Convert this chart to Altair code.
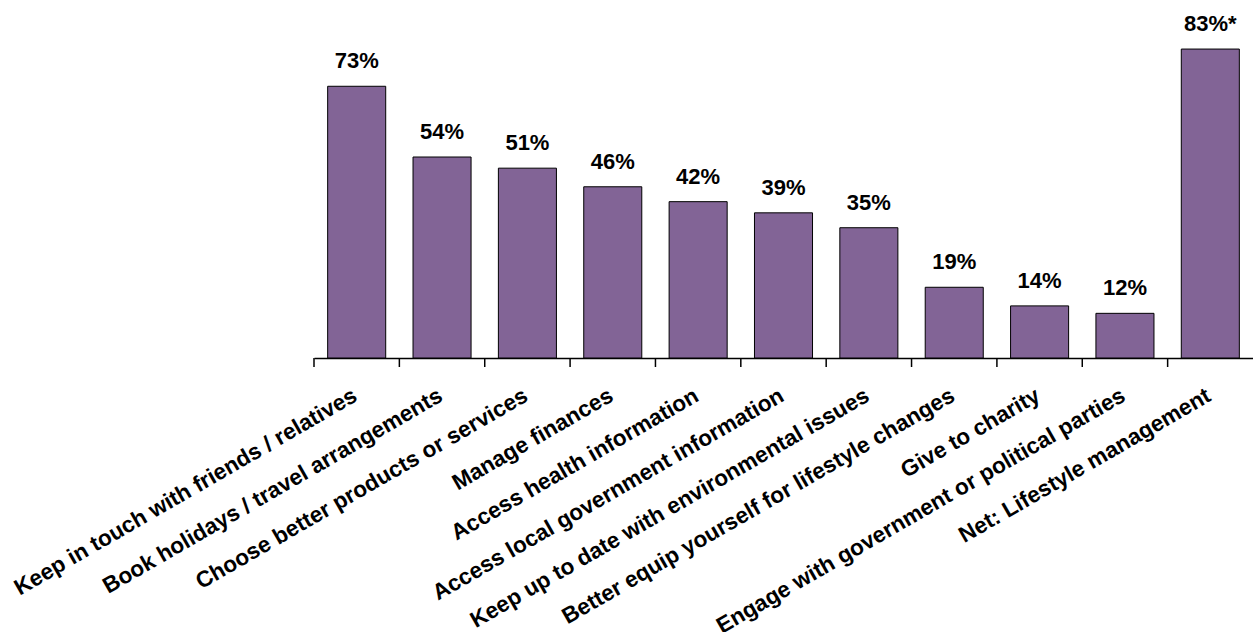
import altair as alt
import pandas as pd

categories = [
    "Keep in touch with friends / relatives",
    "Book holidays / travel arrangements",
    "Choose better products or services",
    "Manage finances",
    "Access health information",
    "Access local government information",
    "Keep up to date with environmental issues",
    "Better equip yourself for lifestyle changes",
    "Give to charity",
    "Engage with government or political parties",
    "Net: Lifestyle management",
]
values = [73, 54, 51, 46, 42, 39, 35, 19, 14, 12, 83]
value_labels = ["73%", "54%", "51%", "46%", "42%", "39%", "35%", "19%", "14%", "12%", "83%*"]

df = pd.DataFrame({"cat": categories, "val": values, "lab": value_labels})

FONT = "Liberation Sans"
PLOT_H = 335

x = alt.X(
    "cat:N",
    sort=categories,
    title=None,
    scale=alt.Scale(paddingInner=0.32, paddingOuter=0.16),
    axis=alt.Axis(
        labelAngle=-30,
        labelAlign="right",
        labelBaseline="top",
        labelFont=FONT,
        labelFontWeight="bold",
        labelFontSize=22.5,
        labelColor="black",
        labelLimit=0,
        labelPadding=26,
        labelOverlap=False,
        labelOffset=-7,
        ticks=False,
        domainColor="black",
        domainWidth=1.5,
        grid=False,
    ),
)
y = alt.Y("val:Q", scale=alt.Scale(domain=[0, 90], nice=False), axis=None)

base = alt.Chart(df).encode(x=x, y=y)
bars = base.mark_bar(color="#826496", stroke="black", strokeWidth=1)
text = base.mark_text(
    font=FONT, fontWeight="bold", fontSize=22, dy=-18, baseline="alphabetic", color="black"
).encode(text="lab:N")

# tick marks at category boundaries (midway between bars)
ticks = alt.Chart(df).mark_rule(color="black", strokeWidth=1.5, xOffset=-13.66).encode(
    x=alt.X("cat:N", sort=categories, bandPosition=0),
    y=alt.value(PLOT_H),
    y2=alt.value(PLOT_H + 9),
)

chart = (
    alt.layer(bars, text, ticks)
    .properties(
        width=939,
        height=PLOT_H,
        background="white",
        autosize=alt.AutoSizeParams(type="none"),
        padding={"left": 314, "top": 23, "right": 0, "bottom": 274},
    )
    .configure_view(strokeWidth=0, stroke="transparent")
)

chart.save("out.html", embed_options={"renderer": "svg", "actions": False})
